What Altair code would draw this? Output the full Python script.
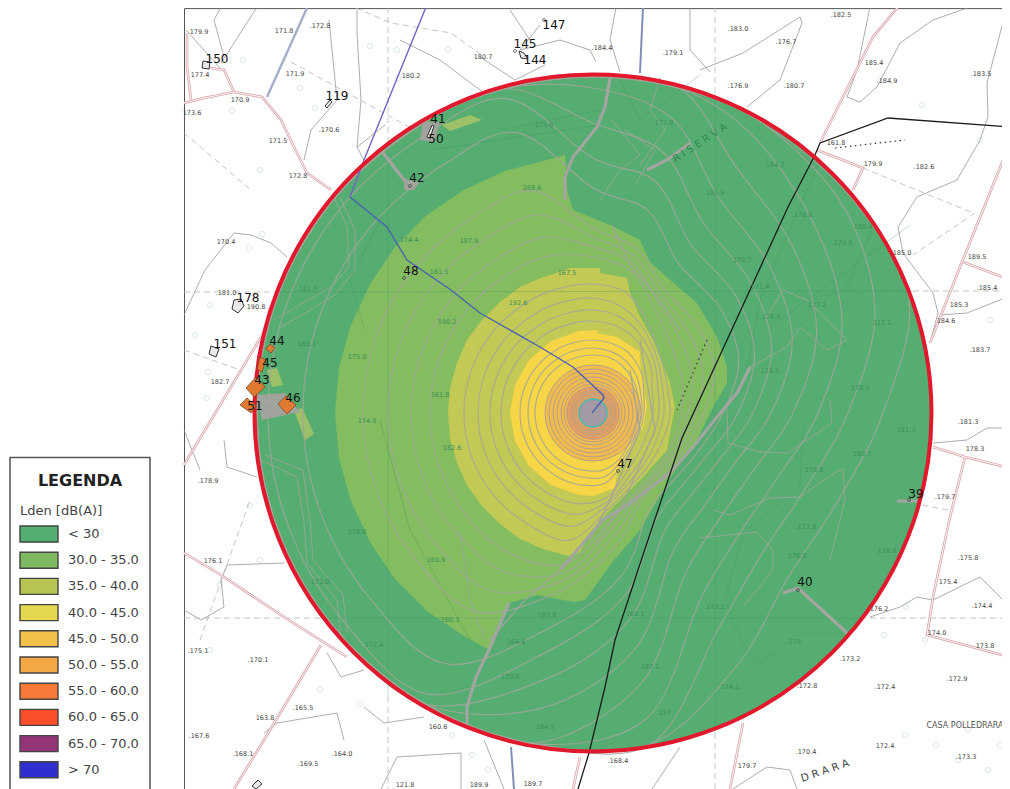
import altair as alt
import pandas as pd
import math

CX, CY = 593, 413

# ---------- noise bands (outlines) ----------
BAND_30_35 = [(565,155),(505,171),(464,190),(427,215),(395,247),(370,284),(351,325),(339,368),(335,413),(339,458),(351,501),(370,542),(395,579),(427,611),(464,636),(489,650),(497,628),(509,603),(537,595),(574,602),(585,600),(610,565),(640,530),(670,478),(697,440),(713,407),(727,383),(727,367),(717,337),(697,303),(670,280),(650,262),(640,240),(610,225),(573,210),(567,190)]
BAND_35_40 = [(570,268),(600,268),(600,273),(627,278),(630,293),(640,317),(653,340),(670,383),(675,407),(667,450),(643,477),(627,493),(607,513),(590,533),(580,552),(568,556),(543,549),(520,539),(500,524),(482,506),(467,485),(457,463),(450,438),(448,413),(450,388),(457,363),(467,340),(482,320),(500,302),(520,287),(543,277),(557,273)]
BAND_40_45 = [(597,330),(597,333),(617,337),(640,352),(640,363),(647,407),(643,427),(630,450),(617,473),(615,488),(593,496),(579,495),(551,485),(529,466),(515,441),(510,413),(515,385),(529,360),(551,341),(579,331)]

# ---------- contour rings: radius at each bearing ----------
BEARING_E = [0,20,40,60,80,100]
BEARING_W = [120,140,160,180,200,220,240,255]
BEARING_N = [270,285,300,320,340]
RINGS = [
 ([46,45,47,53,58,58],58,[58,58,56,52,48]),
 ([49,48,50,56,65,65],65,[65,64,62,57,51]),
 ([51,50,52,59,71,73],73,[73,72,70,63,54]),
 ([60,58,60,68,85,92],92,[92,90,85,75,63]),
 ([66,64,66,73,89,103],103,[103,100,92,80,69]),
 ([71,69,71,77,92,115],115,[115,110,99,84,74]),
 ([77,75,76,81,96,129],129,[129,125,107,88,79]),
 ([88,85,84,89,108,153],163,[156,147,122,103,95]),
 ([95,90,87,92,116,162],182,[166,155,129,114,106]),
 ([103,94,90,95,124,170],205,[176,162,136,125,117]),
 ([111,99,94,99,134,180],230,[185,170,143,136,129]),
 ([130,112,105,112,165,215],290,[225,210,172,165,155]),
 ([145,122,115,125,185,240],325,[255,240,195,185,172]),
 ([160,135,128,140,210,270],336,[290,270,220,205,190]),
 ([178,150,145,160,240,300],336,[325,305,250,230,212]),
 ([200,170,165,185,275,335],336,[336,336,285,260,238]),
 ([225,195,190,215,310,336],336,[336,336,320,290,265]),
 ([255,225,220,250,336,336],336,[336,336,336,325,300]),
 ([290,260,255,290,336,336],336,[336,336,336,336,336]),
]
INNER_RINGS = [17,19,21,23,26,29,32,36,40,44,48]

# ---------- legend ----------
LEGEND_LABELS = ["< 30","30.0 - 35.0","35.0 - 40.0","40.0 - 45.0","45.0 - 50.0","50.0 - 55.0","55.0 - 60.0","60.0 - 65.0","65.0 - 70.0","> 70"]
LEGEND_COLORS = ["#52ae72","#7fba62","#b7c452","#e6d84e","#f0c24a","#f2a844","#f57a38","#fa4f2a","#94357a","#2f2fd0"]

# ---------- map lines ----------
PINK_ROADS = [
 [(184,103),(204,98),(234,92),(262,97),(281,120),(294,147),(307,173),(331,190)],
 [(187,33),(187,67),(191,100)],
 [(234,92),(224,70),(204,67)],
 [(184,465),(261,337)],
 [(898,7),(873,37),(820,143)],
 [(817,150),(863,168),(853,190)],
 [(1010,143),(983,210),(960,267),(930,343)],
 [(963,262),(1010,280)],
 [(933,447),(965,457),(1010,468)],
 [(965,457),(950,517),(933,597),(927,635),(1010,657)],
 [(184,553),(221,575),(284,617),(347,657)],
 [(321,645),(264,740),(234,789)],
 [(743,723),(730,789)],
 [(580,757),(573,789)],
]
THIN_CONTOURS = [
 [(329,20),(331,40),(337,100),(311,130),(304,160)],
 [(357,10),(357,33),(361,100),(357,147),(364,160)],
 [(221,7),(214,20),(224,57)],
 [(257,7),(234,43),(221,63)],
 [(184,315),(205,270),(234,233),(251,235),(271,243),(287,257)],
 [(700,70),(743,53),(800,17),(802,23),(780,80),(747,107)],
 [(870,7),(857,70),(847,97),(860,102),(877,87),(900,43),(933,20),(970,7)],
 [(1007,7),(987,83),(988,117),(980,140),(957,180),(917,197),(898,227),(903,253),(933,293),(938,313),(930,343)],
 [(940,315),(967,313),(1000,300),(1010,293)],
 [(933,443),(967,440),(987,428),(1010,428)],
 [(870,617),(900,607),(917,597),(933,600),(980,577),(990,587),(1010,607)],
 [(733,789),(767,767),(790,770),(797,789)],
 [(652,789),(680,747)],
 [(264,733),(277,723),(337,713),(344,740)],
 [(224,440),(227,467),(257,477)],
 [(284,563),(227,565),(221,580),(224,607),(201,620),(184,610)],
 [(327,653),(341,677),(364,670)],
 [(364,707),(384,723),(424,717)],
 [(381,789),(397,757),(461,753),(461,789)],
 [(484,740),(504,789)],
 [(540,25),(520,50),(560,40),(590,50),(596,62)],
 [(616,7),(610,40),(620,72)],
 [(690,7),(690,50),(710,72)],
 [(186,30),(220,68)],
 [(400,40),(440,60),(480,90),(510,105)],
 [(480,57),(515,80),(545,65)],
 [(510,10),(530,40)],
 [(357,147),(385,125)],
 [(200,470),(184,430)],
]
DASHED_LINES = [
 [(184,133),(251,190)],
 [(291,62),(451,150)],
 [(184,292),(277,292)],
 [(388,7),(388,150)],
 [(913,291),(1010,291)],
 [(715,7),(715,90)],
 [(184,618),(320,618)],
 [(860,618),(1010,618)],
 [(715,733),(715,789)],
 [(388,697),(388,789)],
 [(975,213),(913,255)],
 [(863,168),(973,213)],
 [(356,8),(391,23),(451,33),(484,57)],
 [(948,510),(880,497)],
 [(184,350),(240,370)],
 [(200,640),(250,500)],
]
BLUE_ROAD = [(307,8),(267,97)]
CREEKS = [[(643,7),(640,73)],[(511,747),(514,789)]]

INNER_GREEN_LINES = [
 [(803,427),(800,487),(743,533),(725,600),(742,643),(760,663),(800,633),(843,633)],
 [(380,420),(410,530),(470,640)],
 [(620,80),(640,120),(700,75)],
 [(500,130),(600,110)],
 [(430,150),(600,125)],
 [(365,330),(350,280),(390,200)],
 [(388,150),(388,697)],
 [(715,90),(715,733)],
 [(320,618),(860,618)],
 [(277,292),(913,291)],
 [(820,160),(760,300),(745,380)],
 [(872,230),(845,290),(815,298)],
 [(910,225),(780,320)],
]
INNER_GREY_LINES = [
 [(334,197),(347,227),(349,267),(331,287),(274,320)],
 [(340,197),(355,230),(355,270),(335,295),(280,328)],
 [(261,460),(297,477),(304,523),(307,563),(337,600),(341,640)],
 [(265,455),(303,470),(310,520),(313,560),(343,595),(347,632)],
 [(727,407),(728,443),(760,452),(788,453),(832,423),(830,400)],
 [(713,510),(730,515),(770,498),(800,497),(827,478),(843,468),(845,500),(830,560)],
 [(700,538),(757,532),(773,550),(773,570),(743,607)],
 [(767,317),(783,290),(807,300),(847,340),(827,350),(800,327),(787,347),(750,367)],
 [(612,120),(640,155),(620,170),(600,200)],
 [(625,130),(655,150),(635,185)],
 [(460,530),(470,600),(485,640)],
 [(660,78),(650,110),(665,130),(640,165)],
]
THICK_GREY = [
 [(750,367),(737,393),(717,417),(693,447),(670,473),(630,503),(603,520),(560,570)],
 [(489,650),(476,677),(467,707),(467,725)],
 [(509,603),(489,650)],
 [(610,78),(605,107),(597,127),(573,157),(565,177),(565,200)],
 [(647,170),(667,160),(690,143)],
 [(783,593),(798,588),(847,633)],
 [(381,150),(404,180),(414,183)],
 [(897,501),(920,501)],
 [(257,400),(297,410)],
 [(425,128),(432,140)],
]
RIDGE_FANS = [
 [(560,570),(525,600),(490,640)],
 [(630,370),(640,430),(610,500),(590,540)],
 [(640,340),(655,430),(620,510),(595,545)],
 [(612,225),(630,265),(660,300),(680,330)],
]
POWER_LINE = [(1010,127),(888,118),(820,143),(815,155),(788,207),(750,290),(682,438),(638,570),(615,640),(605,687),(589,753),(578,789)]
DOTTED_BLACK = [[(835,148),(905,140)],[(707,340),(677,410)]]
GAS_NORTH = [(426,7),(364,160),(350,197)]
GAS_SOUTH = [(350,197),(387,227),(407,260),(451,290),(480,313),(540,347),(573,367),(603,395),(604,398),(592,413)]

LIGHT_PATCHES = [
 [(442,125),(470,115),(482,120),(450,131)],
 [(267,370),(277,368),(283,385),(272,387)],
 [(294,410),(302,408),(314,434),(305,440)],
]
GREY_PATCHES = [
 [(257,395),(285,393),(300,412),(262,420)],
 [(423,122),(440,122),(435,142),(420,140)],
 [(404,182),(420,182),(414,190),(404,190)],
]
ORANGE_BUILDINGS = [
 [(286,396),(296,405),(287,414),(278,404)],
 [(256,377),(265,387),(254,397),(246,388)],
 [(247,398),(256,406),(251,413),(240,405)],
 [(260,357),(266,360),(262,372),(257,369)],
 [(270,344),(275,348),(271,353),(266,349)],
]
WHITE_BUILDINGS = [
 [(203,61),(210,62),(209,69),(202,68)],
 [(330,100),(332,102),(327,108),(325,106)],
 [(432,125),(434,126),(430,138),(427,137)],
 [(519,51),(524,53),(528,59),(521,58)],
 [(234,300),(241,299),(244,306),(238,313),(232,309)],
 [(211,346),(219,349),(216,357),(209,354)],
 [(258,780),(262,784),(256,789),(252,786)],
]

# ---------- text ----------
POINT_LABELS = [("150",217,59),("119",337,96),("41",438,119),("50",436,139),("42",417,178),("48",411,271),("44",277,341),("45",270,363),("43",262,380),("51",255,406),("46",293,398),("47",625,464),("39",916,494),("40",805,582),("147",554,25),("145",525,44),("144",535,60),("178",248,298),("151",225,344)]
RECEPTOR_DOTS = [(410,186),(404,278),(618,471),(909,500),(798,590),(544,20),(515,51)]
MAP_VALUES = [("179.9",199,32),("171.8",284,31),(".172.8",320,26),("177.4",200,75),("171.9",295,74),("170.9",240,100),("173.6",192,113),(".170.6",329,130),("171.5",278,141),("172.8",298,176),("170.4",226,242),(".181.0",226,293),("190.8",256,307),("182.7",220,382),("180.2",411,76),(".183.0",738,29),(".176.7",786,42),(".176.9",738,86),(".180.7",794,86),(".182.5",841,15),("185.4",874,63),(".184.9",887,81),(".183.5",981,74),("161.8",836,143),("179.9",873,164),(".182.6",924,167),("185.0",902,253),("189.5",977,257),(".185.4",987,288),("185.3",959,305),("184.6",946,321),(".183.7",980,350),(".181.3",968,422),("178.3",975,449),(".179.7",945,497),(".175.8",968,558),("175.4",948,582),(".174.4",982,606),("176.2",879,609),("174.0",937,633),("173.8",985,646),(".173.2",850,659),(".172.8",807,686),(".172.4",885,687),(".172.9",957,679),("172.4",885,746),(".170.4",806,752),(".173.3",966,757),("179.7",747,766),(".178.9",208,481),("176.1",213,561),(".175.1",198,651),(".170.1",258,660),(".165.5",303,708),("163.8",265,718),(".167.6",199,736),(".168.1",243,754),(".169.5",308,764),(".164.0",342,754),("160.6",438,727),("189.9",479,785),("189.7",533,784),("121.8",405,785),(".168.4",618,761),(".184.4",602,48),(".179.1",673,53),("180.7",483,57)]
GREEN_VALUES = [("175.6",544,125),("177.8",664,123),("184.7",775,165),("185.9",715,193),(".176.6",802,215),("180.4",863,227),("179.8",843,243),("179.7",742,260),("171.4",760,287),("177.2",817,305),("176.9",771,317),("317.1",882,323),("176.5",770,371),("179.5",860,388),("181.3",906,430),("180.7",862,454),("176.8",814,470),(".177.6",806,527),("176.8",797,556),("179.8",887,551),("173.2",715,607),("174.2",730,687),("175",795,642),("187.1",650,667),("187",665,713),("168.1",635,614),("172.4",374,645),("170.8",357,532),("173.0",320,582),("183.1",307,344),("174.0",367,421),("175.0",357,357),("181.5",308,289),("174.4",409,240),("187.9",469,241),("161.5",439,272),("190.2",447,322),("161.8",440,395),("288.6",532,188),("192.6",518,303),("167.5",567,273),("182.6",452,448),("160.9",436,560),("160.3",450,620),("167.8",547,615),("164.4",516,642),("170.8",510,677),("164.5",545,727)]
TREES = [(300,88),(315,108),(243,60),(232,110),(370,46),(398,78),(420,124),(397,50),(448,50),(260,170),(262,234),(249,248),(210,305),(195,335),(208,372),(207,398),(250,505),(260,560),(220,585),(210,650),(320,690),(360,704),(410,700),(452,735),(472,755),(488,770),(838,540),(880,572),(906,607),(925,640),(884,635),(905,735),(936,745),(958,760),(988,770),(968,730),(1000,745),(922,105),(980,140),(990,320)]


def poly_rows(shapes):
    rows = []
    for s, pts in enumerate(shapes):
        for i, (x, y) in enumerate(pts):
            rows.append({"x": x, "y": y, "s": s, "i": i})
    return pd.DataFrame(rows)


X = alt.X("x:Q", scale=alt.Scale(domain=[8, 1002]), axis=None)
Y = alt.Y("y:Q", scale=alt.Scale(domain=[789, 8]), axis=None)
X2 = alt.X2("x2:Q")
Y2 = alt.Y2("y2:Q")


def lines(shapes, color, width, dash=None, opacity=1, interp="linear"):
    kw = dict(color=color, strokeWidth=width, opacity=opacity, clip=True, interpolate=interp)
    if dash:
        kw["strokeDash"] = dash
    return alt.Chart(poly_rows(shapes)).mark_line(**kw).encode(
        x=X, y=Y, detail="s:N", order="i:Q")


def fills(shapes, color, stroke=None, sw=0, opacity=1):
    closed = [list(p) + [p[0]] for p in shapes]
    kw = dict(fill=color, stroke=stroke if stroke else color, strokeWidth=sw if sw else 0.1,
              opacity=opacity, clip=True)
    return alt.Chart(poly_rows(closed)).mark_line(**kw).encode(
        x=X, y=Y, detail="s:N", order="i:Q")


def disc(radius, fill=None, stroke=None, sw=0):
    # a Vega circle symbol has a diameter of sqrt(size)
    df = pd.DataFrame({"x": [CX], "y": [CY], "a": [4 * radius * radius]})
    kw = dict(opacity=1, clip=True)
    if fill:
        kw["fill"] = fill
        kw["filled"] = True
    else:
        kw["filled"] = False
        kw["fillOpacity"] = 0
    if stroke:
        kw["stroke"] = stroke
        kw["strokeWidth"] = sw
    else:
        kw["strokeWidth"] = 0
    return alt.Chart(df).mark_point(shape="circle", **kw).encode(
        x=X, y=Y, size=alt.Size("a:Q", scale=None, legend=None))


def texts(items, size, color, font="DejaVu Sans", weight="normal", align="center", angle=None):
    df = pd.DataFrame(items, columns=["t", "x", "y"])
    kw = dict(fontSize=size, color=color, font=font, fontWeight=weight, align=align, baseline="middle", clip=True)
    if angle is not None:
        kw["angle"] = angle
    return alt.Chart(df).mark_text(**kw).encode(x=X, y=Y, text="t:N")


def ring_rows():
    rows = []
    for s, (east, west, north) in enumerate(RINGS):
        bearings = BEARING_E + BEARING_W + BEARING_N
        radii = east + [west] * len(BEARING_W) + north
        for i, (b, r) in enumerate(zip(bearings, radii)):
            rows.append({"x": CX + r * math.cos(math.radians(b)),
                         "y": CY + r * math.sin(math.radians(b)), "s": s, "i": i})
    return pd.DataFrame(rows)


rings = alt.Chart(ring_rows()).mark_line(
    color="#a3a69a", strokeWidth=1.2, opacity=0.85, interpolate="cardinal-closed", clip=True
).encode(x=X, y=Y, detail="s:N", order="i:Q")

inner = [disc(r, stroke="#b4a187", sw=1) for r in INNER_RINGS]

tree_df = pd.DataFrame(TREES, columns=["x", "y"])
trees = alt.Chart(tree_df).mark_point(shape="circle", size=28, color="#bcdcd4", strokeWidth=0.8, clip=True).encode(x=X, y=Y)

dot_df = pd.DataFrame(RECEPTOR_DOTS, columns=["x", "y"])
dots = alt.Chart(dot_df).mark_point(shape="circle", size=9, color="#222", strokeWidth=0.8, clip=True).encode(x=X, y=Y)

# legend
n = len(LEGEND_LABELS)
sw_rows = [{"x": 20, "x2": 58, "y": 526 + k * 26.2, "y2": 542 + k * 26.2, "c": LEGEND_COLORS[k]} for k in range(n)]
swatches = alt.Chart(pd.DataFrame(sw_rows)).mark_rect(stroke="#444", strokeWidth=1.4).encode(
    x=X, x2=X2, y=Y, y2=Y2, color=alt.Color("c:N", scale=None, legend=None))
leg_box = alt.Chart(pd.DataFrame([{"x": 10, "x2": 150, "y": 457.5, "y2": 800}])).mark_rect(
    fill="white", stroke="#555", strokeWidth=1.5, clip=True).encode(x=X, x2=X2, y=Y, y2=Y2)
leg_text = texts([(LEGEND_LABELS[k], 68, 534 + k * 26.2) for k in range(n)], 13, "#444", align="left")
leg_title = texts([("LEGENDA", 80, 481)], 16, "#222", weight="bold")
leg_sub = texts([("Lden [dB(A)]", 20, 511)], 13, "#444", align="left")

frame = alt.Chart(pd.DataFrame([{"x": 184.5, "x2": 1012, "y": 8.6, "y2": 800}])).mark_rect(
    fill="white", stroke="#555", strokeWidth=1, clip=True).encode(x=X, x2=X2, y=Y, y2=Y2)

chart = alt.layer(
    frame,
    trees,
    lines(THIN_CONTOURS, "#8a8a8a", 0.7),
    lines(DASHED_LINES, "#b5b5b5", 0.8, dash=[6, 4]),
    lines(PINK_ROADS, "#d9a5aa", 2.6),
    lines(PINK_ROADS, "#ffffff", 0.9),
    lines([BLUE_ROAD], "#a3aecb", 2.4),
    lines(CREEKS, "#7f8fb5", 2),
    disc(338.5, fill="#55ad72"),
    fills([BAND_30_35], "#83bd60"),
    fills([BAND_35_40], "#c3c955"),
    fills([BAND_40_45], "#f6d646"),
    disc(48, fill="#f1bb50"),
    disc(27, fill="#ec9f5c"),
    lines(INNER_GREEN_LINES, "#3f9560", 0.6, opacity=0.55),
    fills(LIGHT_PATCHES, "#9cc168"),
    fills(GREY_PATCHES, "#a0a39c"),
    lines(INNER_GREY_LINES, "#93a795", 1),
    rings,
    *inner,
    lines(RIDGE_FANS, "#a2a39c", 1.2),
    lines(THICK_GREY, "#a3a5a0", 3.2),
    disc(14, fill="#a39aa5", stroke="#58b5ae", sw=1.8),
    lines(DOTTED_BLACK, "#333", 1.2, dash=[1.5, 3.5]),
    lines([POWER_LINE], "#1c1c1c", 1.3),
    lines([GAS_NORTH], "#7563c6", 1.4),
    lines([GAS_SOUTH], "#4a62ae", 1.4),
    disc(338.5, stroke="#e2182d", sw=4),
    fills(WHITE_BUILDINGS, "#e8e8e8", stroke="#333", sw=1),
    fills(ORANGE_BUILDINGS, "#e07a33", stroke="#7a4a26", sw=0.8),
    dots,
    texts(MAP_VALUES, 6.5, "#444"),
    texts(GREEN_VALUES, 6.5, "#3a8f58"),
    texts(POINT_LABELS, 12, "#111"),
    texts([("CASA POLLEDRARA", 965, 726)], 8, "#555"),
    texts([("D R A R A", 825, 771)], 10.5, "#444", angle=341),
    texts([("R I S E R V A", 700, 143)], 10, "#2f8a52", angle=327),
    leg_box, swatches, leg_text, leg_title, leg_sub,
).properties(
    width=994, height=781, padding=0,
    autosize=alt.AutoSizeParams(type="none"),
).configure_view(stroke=None)

chart.save("out.html", embed_options={"renderer": "svg", "actions": False})
